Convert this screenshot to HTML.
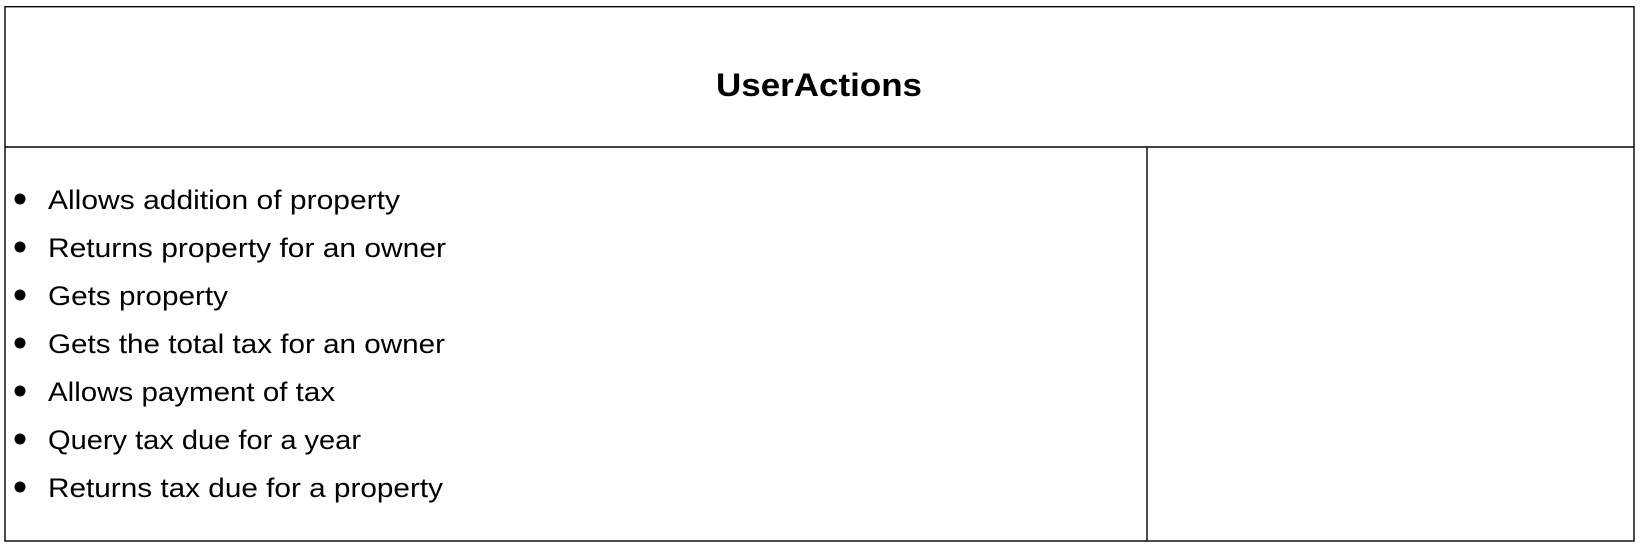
<!DOCTYPE html>
<html><head><meta charset="utf-8"><style>
html,body{margin:0;padding:0;background:#fff;}
svg{display:block;}
text{font-family:"Liberation Sans",sans-serif;fill:#000;}
</style></head><body>
<svg width="1642" height="552" viewBox="0 0 1642 552" xmlns="http://www.w3.org/2000/svg">
<rect x="5" y="6.7" width="1629" height="534.3" fill="#fff" stroke="#000" stroke-width="1.4"/>
<line x1="5" y1="147" x2="1634" y2="147" stroke="#000" stroke-width="1.4"/>
<line x1="1147" y1="147" x2="1147" y2="541" stroke="#000" stroke-width="1.4"/>
<text x="819" y="96" text-anchor="middle" font-size="32" font-weight="bold" textLength="206" lengthAdjust="spacingAndGlyphs">UserActions</text>
<g font-size="27">
<circle cx="20" cy="199" r="5.5"/><text x="48" y="209" textLength="352" lengthAdjust="spacingAndGlyphs">Allows addition of property</text>
<circle cx="20" cy="247" r="5.5"/><text x="48" y="257" textLength="398" lengthAdjust="spacingAndGlyphs">Returns property for an owner</text>
<circle cx="20" cy="295" r="5.5"/><text x="48" y="305" textLength="180" lengthAdjust="spacingAndGlyphs">Gets property</text>
<circle cx="20" cy="343" r="5.5"/><text x="48" y="353" textLength="397" lengthAdjust="spacingAndGlyphs">Gets the total tax for an owner</text>
<circle cx="20" cy="391" r="5.5"/><text x="48" y="401" textLength="287" lengthAdjust="spacingAndGlyphs">Allows payment of tax</text>
<circle cx="20" cy="439" r="5.5"/><text x="48" y="449" textLength="313" lengthAdjust="spacingAndGlyphs">Query tax due for a year</text>
<circle cx="20" cy="487" r="5.5"/><text x="48" y="497" textLength="395" lengthAdjust="spacingAndGlyphs">Returns tax due for a property</text>
</g>
</svg>
</body></html>
